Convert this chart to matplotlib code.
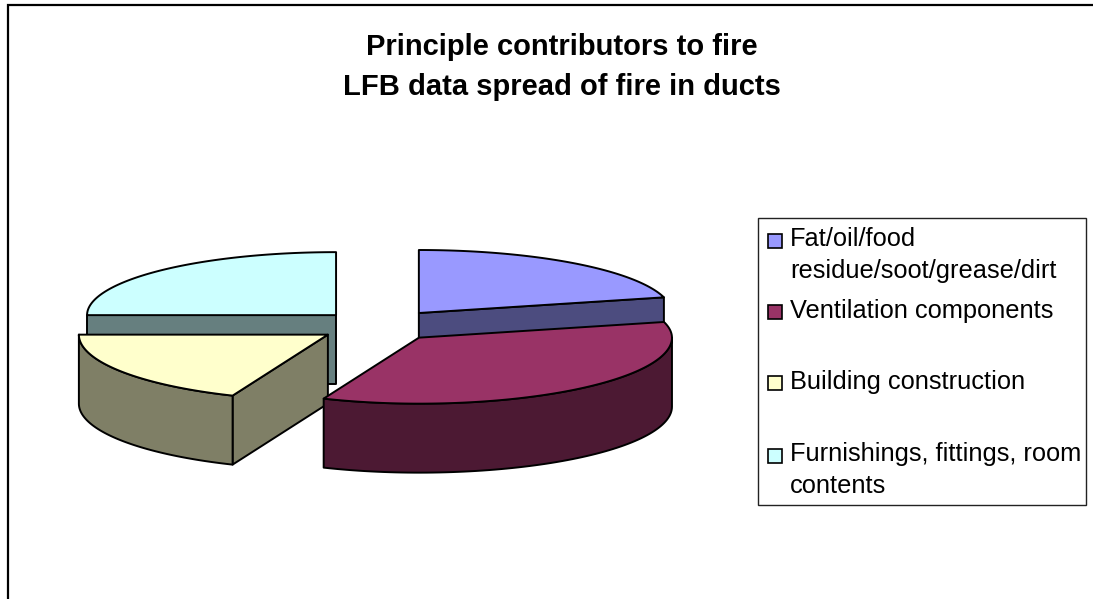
import numpy as np
from matplotlib import pyplot as plt
from matplotlib.patches import Polygon, Rectangle

plt.rcParams['font.family'] = ['Liberation Sans', 'DejaVu Sans']

# values (percent)
labels = ['Fat/oil/food\nresidue/soot/grease/dirt', 'Ventilation components',
          'Building construction', 'Furnishings, fittings, room\ncontents']
values = [21, 35.25, 18.75, 25]
explode = [0.257, 0.241, 0.243, 0.24]
colors = ['#9999FF', '#993366', '#FFFFCC', '#CCFFFF']
wall_colors = ['#4C4C7F', '#4C1933', '#7F7F66', '#667F7F']
title = 'Principle contributors to fire\nLFB data spread of fire in ducts'

# pie geometry in pixels, right/left and back/front radii differ a bit (perspective)
cx, cy = 379, 326
rx_right, rx_left = 253, 249
ry_back, ry_front = 63, 66
depth = 69
lw = 1.4

fig = plt.figure(figsize=(10.93, 5.99), dpi=100)
ax = fig.add_axes([0, 0, 1, 1])
ax.set_xlim(0, 1093)
ax.set_ylim(599, 0)
ax.axis('off')


def rim(ox, oy, t):
    s, c = np.sin(t), np.cos(t)
    return np.column_stack([ox + np.where(s > 0, rx_right, rx_left) * s,
                            oy - np.where(c > 0, ry_back, ry_front) * c])


def face(points, color, z):
    ax.add_patch(Polygon(points, closed=True, facecolor=color, edgecolor='black',
                         linewidth=lw, joinstyle='round', zorder=z))


def drop(points):
    return points + np.array([0, depth])


edges = np.radians(np.concatenate([[0], np.cumsum(values)]) * 360 / sum(values))

# back to front, so the ventilation slice lies over the others
for z, i in enumerate([3, 0, 2, 1]):
    t0, t1 = edges[i], edges[i + 1]
    mid = (t0 + t1) / 2
    ox = cx + explode[i] * 253 * np.sin(mid)
    oy = cy - explode[i] * 64 * np.cos(mid)
    apex = np.array([[ox, oy]])
    z = z * 10
    # radial walls facing the viewer
    if np.sin(t1) > 0:
        p = np.vstack([apex, rim(ox, oy, np.array([t1]))])
        face(np.vstack([p, drop(p)[::-1]]), wall_colors[i], z + 1)
    if np.sin(t0) < 0:
        p = np.vstack([apex, rim(ox, oy, np.array([t0]))])
        face(np.vstack([p, drop(p)[::-1]]), wall_colors[i], z + 1)
    # outer wall, front half of the rim only
    a = max(t0, np.pi / 2)
    b = min(t1, 3 * np.pi / 2)
    if b > a:
        p = rim(ox, oy, np.linspace(a, b, 80))
        face(np.vstack([p, drop(p)[::-1]]), wall_colors[i], z + 2)
    p = rim(ox, oy, np.linspace(t0, t1, 120))
    face(np.vstack([apex, p]), colors[i], z + 3)

ax.text(562, 67, title, ha='center', va='center', fontsize=21, fontweight='bold',
        linespacing=1.55, zorder=60)

# chart border, runs off the right and bottom of the picture
ax.plot([8, 8, 1100], [640, 4.5, 4.5], color='black', lw=1.6, zorder=60,
        solid_joinstyle='miter')

# legend
ax.add_patch(Rectangle((758, 218), 328, 287, facecolor='white', edgecolor='#222222',
                       linewidth=1.0, zorder=50))
swatch_y = [241, 312, 383, 456]
text_y = [255, 311, 382, 470]
for i in range(len(labels)):
    ax.add_patch(Rectangle((767.5, swatch_y[i] - 7), 14, 14, facecolor=colors[i],
                           edgecolor='black', linewidth=1.2, zorder=51))
    ax.text(790, text_y[i], labels[i], ha='left', va='center', fontsize=18.3,
            linespacing=1.37, zorder=51)

fig.savefig('out.png', dpi=100)
